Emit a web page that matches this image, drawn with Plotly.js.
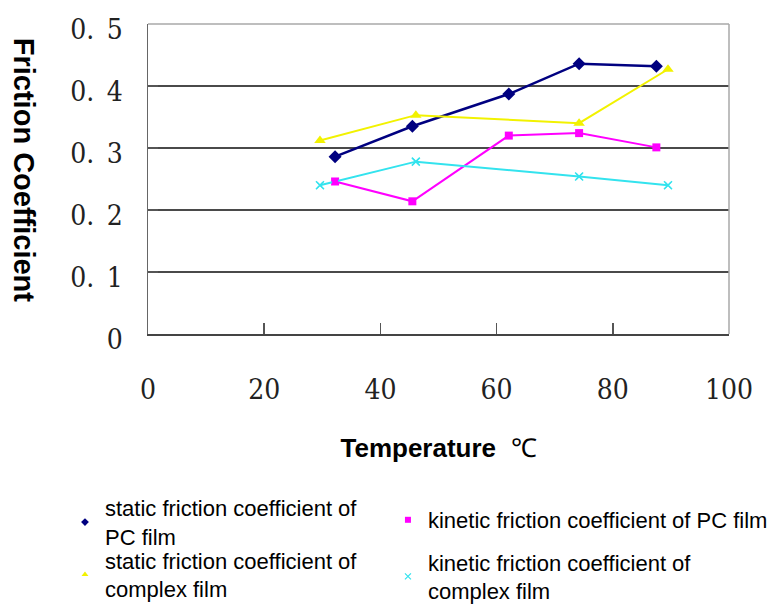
<!DOCTYPE html>
<html>
<head>
<meta charset="utf-8">
<script src="https://cdn.plot.ly/plotly-3.0.1.min.js"></script>
<style>html,body{margin:0;padding:0;background:#fff;}#chart{width:774px;height:612px;}</style>
</head>
<body>
<div id="chart"></div>
<script>
// Temperatures (°C)
const tempPC = [32.2, 45.5, 62.1, 74.2, 87.5];
const tempComplex = [29.6, 46.1, 74.2, 89.5];
// Friction coefficients
const staticPC = [0.286, 0.335, 0.387, 0.436, 0.432];
const kineticPC = [0.246, 0.214, 0.320, 0.324, 0.301];
const staticComplex = [0.312, 0.353, 0.340, 0.427];
const kineticComplex = [0.240, 0.278, 0.254, 0.240];
// Series names
const seriesNames = [
  'static friction coefficient of<br>PC film',
  'static friction coefficient of<br>complex film',
  'kinetic friction coefficient of PC film',
  'kinetic friction coefficient of<br>complex film'
];
// Tick labels
const xTickVals = [0, 20, 40, 60, 80, 100];
const xTickText = ['0', '20', '40', '60', '80', '100'];
const yTickVals = [0, 0.1, 0.2, 0.3, 0.4, 0.5];
const yTickText = ['0', '0.\u20021', '0.\u20022', '0.\u20023', '0.\u20024', '0.\u20025'];

const colors = ['#000080', '#f2f200', '#ff00ff', '#33e3ee'];
const symbols = ['diamond', 'triangle-up', 'square', 'x-thin-open'];
const plotSizes = [10, 10, 8, 8];
const legendSizes = [6, 6, 6, 6];
const xs = [tempPC, tempComplex, tempPC, tempComplex];
const ys = [staticPC, staticComplex, kineticPC, kineticComplex];
const legendIds = ['legend', 'legend2', 'legend3', 'legend4'];

const traces = [];
for (let i = 0; i < 4; i++) {
  traces.push({
    x: xs[i], y: ys[i], type: 'scatter', mode: 'lines+markers',
    line: {color: colors[i], width: i === 0 ? 2.5 : 2},
    marker: {symbol: symbols[i], size: plotSizes[i], color: colors[i],
             line: {width: i === 3 ? 1.5 : 0, color: colors[i]}},
    showlegend: false, hoverinfo: 'skip'
  });
}
for (let i = 0; i < 4; i++) {
  traces.push({
    x: xs[i], y: ys[i], type: 'scatter', mode: 'markers', name: seriesNames[i],
    marker: {symbol: symbols[i], size: legendSizes[i], color: colors[i],
             line: {width: i === 3 ? 1.2 : 0, color: colors[i]}},
    legend: legendIds[i], showlegend: true, hoverinfo: 'skip'
  });
}

const serif = 'DejaVu Serif Condensed, DejaVu Serif, serif';
const legendFont = {family: 'Liberation Sans', size: 22, color: '#000'};
function mkLegend(x, y) {
  return {x: x, y: y, xanchor: 'left', yanchor: 'middle', bgcolor: 'rgba(0,0,0,0)',
          borderwidth: 0, font: legendFont, valign: 'middle'};
}

const layout = {
  width: 774, height: 612,
  margin: {l: 148, r: 45, t: 24, b: 278, autoexpand: false},
  paper_bgcolor: '#fff', plot_bgcolor: '#fff',
  xaxis: {
    range: [0, 100], tickvals: xTickVals, ticktext: xTickText,
    ticks: 'inside', ticklen: 11, tickwidth: 1.5, tickcolor: '#555',
    showgrid: false, zeroline: false, showline: true, linecolor: '#444', linewidth: 1.5,
    tickfont: {family: serif, size: 28, color: '#222'},
    ticklabelstandoff: 30,
    title: {text: 'Temperature  <span style="font-weight:normal">℃</span>', standoff: 33,
            font: {family: 'Liberation Sans', size: 26, color: '#000', weight: 'bold'}}
  },
  yaxis: {
    range: [0, 0.5], tickvals: yTickVals, ticktext: yTickText,
    ticks: 'inside', ticklen: 10, tickwidth: 1.5, tickcolor: '#555',
    showgrid: true, gridcolor: '#4a4a4a', gridwidth: 1.5, zeroline: false,
    showline: true, linecolor: '#666', linewidth: 1.5,
    tickfont: {family: serif, size: 28, color: '#222'},
    ticklabelstandoff: 18, ticklabelshift: 5
  },
  shapes: [
    {type: 'line', xref: 'paper', yref: 'paper', x0: 0, x1: 1, y0: 1, y1: 1, line: {color: '#a8a8a8', width: 1.5}, layer: 'above'},
    {type: 'line', xref: 'paper', yref: 'paper', x0: 1, x1: 1, y0: 0, y1: 1, line: {color: '#a8a8a8', width: 1.5}, layer: 'above'}
  ],
  annotations: [
    {text: 'Friction Coefficient', xref: 'paper', yref: 'paper', x: -0.213, y: 0.529,
     xanchor: 'center', yanchor: 'middle', textangle: 90, showarrow: false,
     font: {family: 'Liberation Sans', size: 29, color: '#000', weight: 'bold'}}
  ],
  legend: mkLegend(-0.1429, -0.608),
  legend2: mkLegend(-0.1429, -0.777),
  legend3: mkLegend(0.413, -0.600),
  legend4: mkLegend(0.413, -0.783)
};

Plotly.newPlot('chart', traces, layout, {displayModeBar: false, staticPlot: true});
</script>
</body>
</html>
